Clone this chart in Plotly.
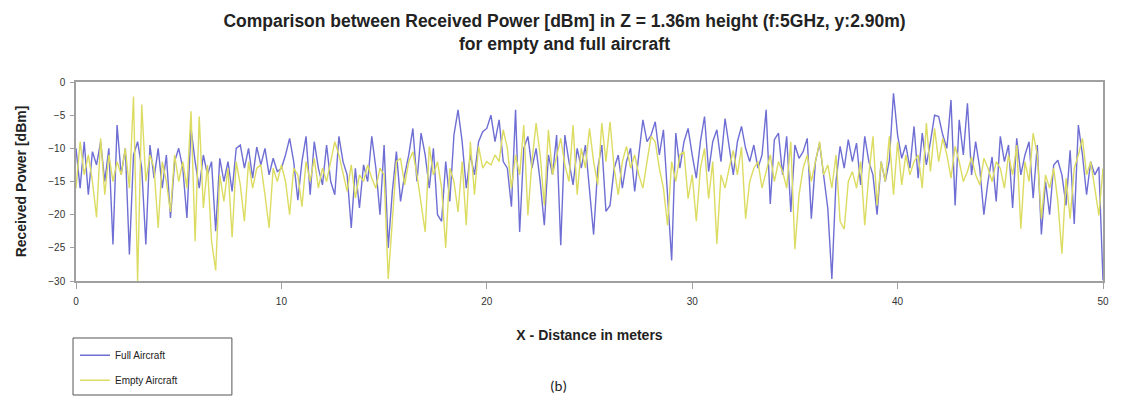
import plotly.graph_objects as go

# Distance along the cabin (m), 0.2 m resolution
distance_m = [round(i * 0.2, 1) for i in range(251)]

# Received power [dBm] - Full Aircraft
full_aircraft = [
    -10, -16, -9, -17, -10.5,
    -12.5, -9, -15, -10, -24.5,
    -6.5, -14, -10, -26, -11,
    -9, -13, -24.5, -9.5, -14.5,
    -10, -16, -11, -20.5, -12,
    -10, -13, -20.5, -7, -12,
    -16, -11, -14, -12, -22.5,
    -11.5, -15, -12, -16.5, -10,
    -9.5, -13, -10, -14.5, -9.8,
    -12.5, -10, -14, -11.5, -13.5,
    -13, -11, -8.5, -12, -17.8,
    -12, -8.2, -17, -9, -13,
    -15.5, -9.5, -15, -17, -8.2,
    -12, -14, -22, -13, -19,
    -12.5, -15, -8.2, -13, -20,
    -9.5, -25, -16.5, -10.5, -18,
    -14, -11, -7, -15, -7.7,
    -11, -16, -10, -20, -21,
    -12, -18, -8, -4.2, -9,
    -16, -11, -14, -9, -7.5,
    -7, -5, -9, -5.7, -12,
    -13, -18.8, -4.2, -22.6, -10,
    -8.2, -13, -10, -15, -21.6,
    -11, -14, -8, -24.6, -8,
    -12, -15.5, -10, -13, -9.5,
    -16, -23, -13, -9.5, -19.5,
    -18.6, -13, -11, -16, -12,
    -10, -16.5, -11, -5.7, -9,
    -8, -6, -11, -7.2, -18,
    -26.9, -7.7, -13, -9, -7,
    -11, -14.5, -9, -5.2, -13.5,
    -9, -7.2, -12, -5.5, -10,
    -14, -9, -6.7, -10, -12,
    -9.5, -13, -11, -4.2, -18.4,
    -8.7, -7.7, -14, -8.2, -19.6,
    -9.5, -11.5, -10.5, -8.5, -20.6,
    -12, -9.2, -14, -19, -29.7,
    -15, -9.7, -13, -8.7, -12,
    -9.2, -15.5, -8.2, -12, -14,
    -20, -12, -15, -11.8, -1.7,
    -8, -11.5, -9.5, -13, -6.7,
    -14.5, -7.7, -12.5, -9, -5,
    -5.2, -8, -10, -2.7, -18.6,
    -5.7, -11, -3.2, -14, -9,
    -13, -20, -15, -11.3, -18,
    -8.2, -12, -9.5, -19, -8.5,
    -14, -11, -9, -17.5, -9.5,
    -23, -15, -20, -12.5, -11.8,
    -14, -18.6, -10.3, -21.4, -6.5,
    -11, -17, -12, -14, -12.8,
    -29.9,
]

# Received power [dBm] - Empty Aircraft
empty_aircraft = [
    -16, -9, -14, -11, -15,
    -20.4, -8.5, -17, -11, -15,
    -12, -14, -10, -16, -2.2,
    -30, -3.4, -15, -11, -13,
    -22, -12, -15, -19.6, -11,
    -15, -12, -16, -4.4, -24,
    -5.2, -19, -12.5, -24, -28.4,
    -14, -18, -13, -23.4, -12,
    -15.5, -21, -12, -16, -13,
    -12.5, -17, -22, -13, -15,
    -12.5, -15, -20, -13, -14,
    -18.8, -12, -15, -11.5, -16,
    -13, -15, -12, -9, -11,
    -14, -16.5, -12.5, -17.5, -14,
    -15, -12.5, -14.5, -16, -13,
    -14, -29.7, -21, -12, -11.5,
    -15.5, -12, -10.5, -14, -18,
    -22.6, -9.7, -14, -12, -16,
    -25, -13, -15, -19.6, -12,
    -21.6, -9, -17, -9.7, -13,
    -12, -12.5, -11, -12, -7.2,
    -10, -16, -11, -14, -6.5,
    -20.1, -12, -6.2, -11, -18.6,
    -7.2, -14, -11, -8.5, -12.5,
    -15, -6.5, -17, -10, -13,
    -7, -12, -15.5, -6.2, -12,
    -6, -13, -17, -12, -9.7,
    -13, -11, -14, -16, -12,
    -8.2, -9, -13, -16, -21.6,
    -12, -15, -11, -10.5, -17.6,
    -14, -21, -13, -10, -17.6,
    -12, -24.4, -14, -16, -13,
    -10.3, -14, -9.8, -20.6, -15,
    -13, -12, -16, -13.5, -11,
    -15, -12, -13.5, -16, -9,
    -25.2, -17, -13, -11, -15,
    -12, -9, -14, -12.5, -16,
    -11, -21, -22.2, -15, -13.5,
    -16, -12, -21.6, -14, -8.2,
    -18.6, -12, -15, -8.2, -17,
    -9, -15.5, -11, -14, -12,
    -11, -16, -6.2, -13.5, -7,
    -12, -8.5, -11, -14.5, -9.7,
    -12, -15, -13.5, -11.3, -14,
    -15.5, -11.5, -13, -15, -12,
    -13, -16, -11, -14, -9.5,
    -22.1, -12, -15, -7.7, -11,
    -20.6, -14, -16, -13, -18,
    -25.9, -14.5, -20.6, -13, -11,
    -8.5, -14, -12, -16, -20.1,
    -13,
]

x_ticks = [0, 10, 20, 30, 40, 50]
y_ticks = [0, -5, -10, -15, -20, -25, -30]

FONT = "Liberation Sans, Arial, sans-serif"

fig = go.Figure()
fig.add_trace(go.Scatter(
    x=distance_m, y=full_aircraft, mode="lines", name="Full Aircraft",
    legendgroup="full", line=dict(color="#6e6ed4", width=1.4),
))
fig.add_trace(go.Scatter(
    x=distance_m, y=empty_aircraft, mode="lines", name="Empty Aircraft",
    legendgroup="empty", line=dict(color="#dcdc62", width=1.4),
))

axis_common = dict(
    showgrid=False, zeroline=False, showline=True, linecolor="#a0a0a0", linewidth=1.5,
    ticks="outside", tickcolor="#a0a0a0",
    tickfont=dict(family=FONT, size=10, color="#333333"), mirror=True,
)

fig.update_layout(
    width=1113, height=399,
    margin=dict(l=65, r=14, t=74, b=126),
    paper_bgcolor="white", plot_bgcolor="white",
    title=dict(
        text="<b>Comparison between Received Power [dBm] in Z = 1.36m height (f:5GHz, y:2.90m)<br>for empty and full aircraft</b>",
        x=0.5, xanchor="center", y=0.952, yanchor="top",
        font=dict(family=FONT, size=17.5, color="#222222"),
    ),
    xaxis=dict(
        range=[0, 50], tickvals=x_ticks, ticklen=6, ticklabelstandoff=4,
        title=dict(text="<b>X - Distance in meters</b>", font=dict(family=FONT, size=14, color="#222222"), standoff=24),
        **axis_common,
    ),
    yaxis=dict(
        range=[-30, 0], tickvals=y_ticks, ticklen=4, ticklabelstandoff=3,
        title=dict(text="<b>Received Power [dBm]</b>", font=dict(family=FONT, size=14, color="#222222"), standoff=18),
        **axis_common,
    ),
    legend=dict(
        x=-0.001, y=-0.30, xanchor="left", yanchor="top",
        borderwidth=0, bgcolor="rgba(0,0,0,0)",
        font=dict(family=FONT, size=10, color="#222222"),
        tracegroupgap=6,
    ),
    showlegend=True,
    shapes=[dict(
        type="rect", xref="paper", yref="paper",
        x0=-0.0029, x1=0.1518, y0=-0.5729, y1=-0.2864,
        line=dict(color="#555555", width=1), fillcolor="rgba(0,0,0,0)",
    )],
    annotations=[dict(
        text="(b)", x=0.47, xref="paper", y=-0.5276, yref="paper",
        xanchor="center", yanchor="middle", showarrow=False,
        font=dict(family="Carlito, Liberation Sans, sans-serif", size=15, color="#222222"),
    )],
)

fig.write_html("out.html")
